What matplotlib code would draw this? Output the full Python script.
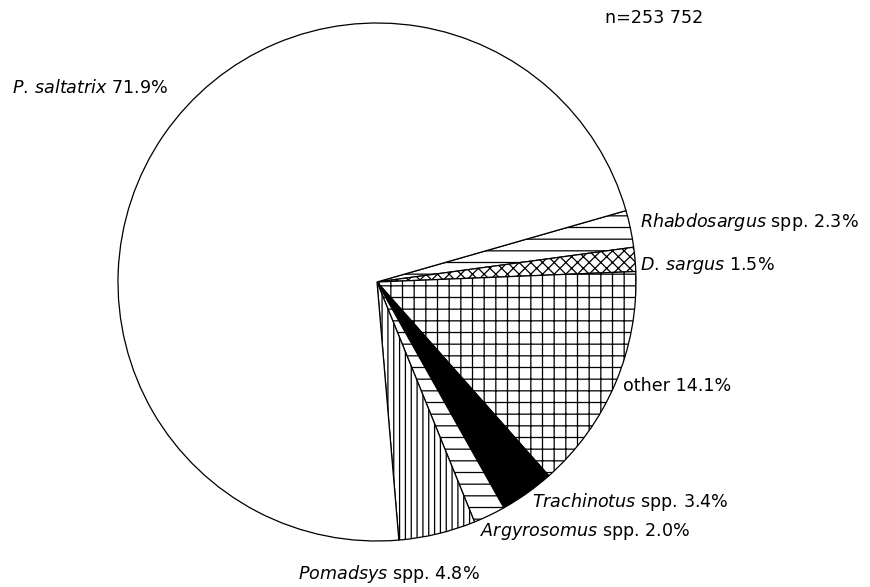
import matplotlib.pyplot as plt

# catch composition (percent), clockwise from the upper right
species = ["Rhabdosargus", "D. sargus", "other", "Trachinotus",
           "Argyrosomus", "Pomadsys", "P. saltatrix"]
percent = [2.3, 1.5, 14.1, 3.4, 2.0, 4.8, 71.9]
labels = [r"$\mathit{Rhabdosargus}$ spp. 2.3%",
          r"$\mathit{D.\,sargus}$ 1.5%",
          "other 14.1%",
          r"$\mathit{Trachinotus}$ spp. 3.4%",
          r"$\mathit{Argyrosomus}$ spp. 2.0%",
          r"$\mathit{Pomadsys}$ spp. 4.8%",
          r"$\mathit{P.\,saltatrix}$ 71.9%"]
hatches = ["-", "xx", "+", None, "-", "||", None]
fills = ["white", "white", "white", "black", "white", "white", "white"]
total_n = "n=253 752"

# label anchor points (pie radius = 1)
label_xy = [(1.015, 0.232), (1.015, 0.062), (0.95, -0.402), (0.598, -0.849),
            (0.398, -0.965), (-0.305, -1.127), (-0.807, 0.749)]
label_ha = ["left", "left", "left", "left", "left", "left", "right"]

plt.rcParams['font.family'] = 'DejaVu Sans'
plt.rcParams['mathtext.fontset'] = 'dejavusans'
plt.rcParams['hatch.linewidth'] = 1.3

fig = plt.figure(figsize=(870 / 70, 587 / 70), dpi=70)
ax = fig.add_axes([118 / 870, 46 / 587, 518 / 870, 518 / 587])

wedges, _ = ax.pie(percent, startangle=16, counterclock=False, radius=1,
                   colors=fills, wedgeprops=dict(edgecolor="black", linewidth=1.3))
for w, h in zip(wedges, hatches):
    if h:
        w.set_hatch(h)

for lab, (x, y), ha in zip(labels, label_xy, label_ha):
    ax.text(x, y, lab, ha=ha, va="center", fontsize=18, clip_on=False)

ax.text(0.88, 1.019, total_n, ha="left", va="center", fontsize=18, clip_on=False)

ax.set_xlim(-1, 1)
ax.set_ylim(-1, 1)
ax.set_aspect("equal")
ax.axis("off")

fig.savefig("out.png", dpi=70)
